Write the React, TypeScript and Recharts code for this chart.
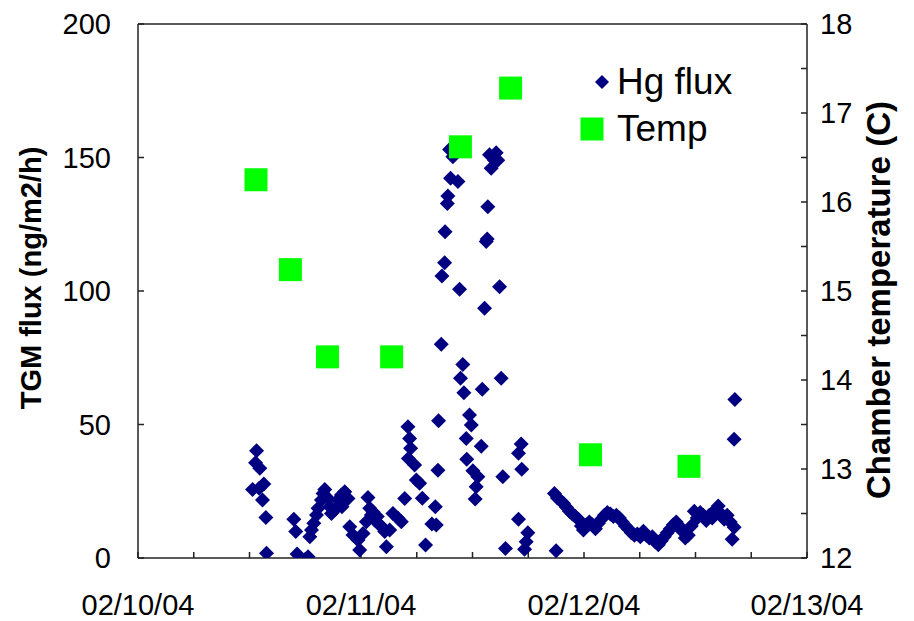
import React from 'react';
import { ScatterChart, Scatter, XAxis, YAxis, Legend, ReferenceLine } from 'recharts';

// Hours since 02/10/04 00:00, TGM flux (ng/m2/h)
const hgFluxPoints: [number, number][] = [
  [12.33, 25.7], [12.65, 35.7], [12.76, 40.2], [13.04, 26.1], [13.11, 33.6], [13.4, 21.7], [13.54, 27.7], [13.76, 15.2], [13.83, 1.8],
  [16.77, 14.5], [16.98, 9.9], [17.12, 1.5], [18.3, 0.5], [18.49, 8.0], [18.67, 10.5], [18.92, 13.0], [19.21, 16.1], [19.38, 18.6],
  [19.74, 21.7], [19.92, 24.2], [20.1, 25.7], [20.45, 22.3], [20.64, 19.2], [20.82, 16.7], [21.17, 18.0], [21.53, 21.7], [21.89, 23.6],
  [21.95, 19.2], [22.25, 24.8], [22.6, 22.3], [22.79, 11.7], [23.14, 8.6], [23.68, 6.7], [23.86, 3.0], [24.22, 9.2], [24.58, 13.6],
  [24.75, 22.7], [24.94, 18.6], [25.12, 16.1], [25.3, 17.2], [25.47, 14.2], [25.75, 15.5], [26.01, 12.4], [26.3, 11.5], [26.55, 9.9],
  [26.73, 4.2], [27.09, 10.5], [27.44, 16.7], [27.98, 14.9], [28.34, 13.6], [28.7, 22.3],
  [29.05, 49.2], [29.23, 44.8], [29.34, 41.1], [29.1, 37.3], [29.77, 34.8], [29.95, 29.2], [30.31, 28.0], [30.6, 22.4], [30.95, 4.9],
  [31.63, 12.7], [32.1, 12.4], [32.0, 19.2], [32.28, 32.9], [32.35, 51.4], [32.64, 80.1], [32.71, 105.6], [33.0, 110.6], [33.05, 122.2],
  [33.29, 132.8], [33.35, 135.6], [33.64, 142.2], [33.53, 153.0], [33.89, 150.3], [34.43, 141.0], [34.61, 100.7], [34.71, 67.3],
  [34.96, 72.5], [35.07, 61.9], [35.33, 44.8], [35.38, 37.0], [35.68, 53.6], [35.87, 49.8], [36.04, 32.7], [36.4, 26.7], [36.29, 22.1],
  [36.58, 30.4], [36.94, 41.9], [37.05, 63.2], [37.3, 93.5], [37.48, 118.5], [37.58, 119.5], [37.65, 131.6], [37.83, 151.0],
  [38.01, 146.0], [38.37, 149.0], [38.55, 151.8], [38.72, 149.0], [38.91, 101.6], [39.09, 67.3], [39.26, 30.4], [39.55, 3.6],
  [40.95, 14.5], [40.95, 39.2], [41.24, 42.7], [41.3, 33.2], [41.95, 9.5], [41.78, 6.1], [41.6, 3.3], [45.0, 2.7],
  [44.82, 24.2], [45.14, 22.5], [45.46, 21.5], [45.79, 20.5], [46.11, 19.0], [46.43, 17.5], [46.75, 16.5], [47.08, 15.5], [47.4, 14.5],
  [47.72, 12.0], [47.94, 10.5], [48.26, 12.5], [48.58, 13.5], [48.9, 12.5], [49.23, 11.0], [49.55, 13.0], [49.87, 14.5], [50.19, 16.0],
  [50.52, 17.0], [50.84, 16.5], [51.16, 15.5], [51.48, 16.0], [51.81, 15.0], [52.13, 13.5], [52.45, 12.0], [52.77, 11.0], [53.1, 9.5],
  [53.42, 8.5], [53.74, 9.0], [54.06, 8.0], [54.39, 10.0], [54.71, 8.5], [55.03, 7.5], [55.35, 8.0], [55.68, 6.0], [56.0, 5.0],
  [56.32, 6.5], [56.64, 8.0], [56.96, 9.5], [57.29, 11.0], [57.61, 12.5], [57.93, 13.5], [58.25, 12.0], [58.58, 10.0], [58.9, 7.5],
  [59.22, 8.5], [59.54, 12.0], [59.87, 17.5], [60.19, 15.0], [60.51, 17.0], [60.83, 16.0], [61.16, 14.0], [61.48, 16.0], [61.8, 15.0],
  [62.12, 18.0], [62.45, 19.5], [62.77, 16.5], [63.09, 14.5], [63.41, 16.0], [63.74, 13.5], [63.95, 7.0], [64.16, 11.5], [64.16, 44.5],
  [64.24, 59.4],
];

// Hours since 02/10/04 00:00, chamber temperature (C)
const tempPoints: [number, number][] = [
  [12.7, 16.25], [16.4, 15.24], [20.4, 14.26], [27.3, 14.26], [34.7, 16.62], [40.1, 17.28], [48.7, 13.16], [59.3, 13.03],
];

const xTicks = [0, 6, 12, 18, 24, 30, 36, 42, 48, 54, 60, 66, 72];
const dateLabels: Record<number, string> = { 0: '02/10/04', 24: '02/11/04', 48: '02/12/04', 72: '02/13/04' };
const fluxTicks = [0, 50, 100, 150, 200];
const tempTicks = [12, 12.5, 13, 13.5, 14, 14.5, 15, 15.5, 16, 16.5, 17, 17.5, 18];

const hgData = hgFluxPoints.map(([t, flux]) => ({ t, flux }));
const tempData = tempPoints.map(([t, temp]) => ({ t, temp }));

const FONT = '"Liberation Sans", Arial, sans-serif';
const NAVY = '#000080';
const GREEN = '#00FF00';
const AXIS = '#222';

const DiamondShape = (props: any) => {
  const { cx, cy } = props;
  const r = 7.5;
  return <polygon points={`${cx},${cy - r} ${cx + r},${cy} ${cx},${cy + r} ${cx - r},${cy}`} fill={NAVY} />;
};

const SquareShape = (props: any) => {
  const { cx, cy } = props;
  const s = 23;
  return <rect x={cx - s / 2} y={cy - s / 2} width={s} height={s} fill={GREEN} />;
};

const LegendContent = (props: any) => {
  const { payload } = props;
  return (
    <div style={{ fontFamily: FONT, fontSize: 37, color: '#000', lineHeight: 1 }}>
      {(payload || []).map((p: any, i: number) => (
        <div key={i} style={{ display: 'flex', alignItems: 'center', height: 47 }}>
          <svg width={42} height={30} style={{ display: 'block' }}>
            {i === 0 ? (
              <polygon points="30,8 37,15 30,22 23,15" fill={NAVY} />
            ) : (
              <rect x={8.5} y={3.5} width={23} height={23} fill={GREEN} />
            )}
          </svg>
          <span style={{ marginLeft: 3 }}>{p.value}</span>
        </div>
      ))}
    </div>
  );
};

export default function App() {
  return (
    <div style={{ position: 'absolute', left: 0, top: 0, width: 914, height: 621, background: '#fff' }}>
      <ScatterChart width={914} height={621} margin={{ top: 24, right: 0, bottom: 0, left: 0 }}>
        <XAxis
          type="number"
          dataKey="t"
          domain={[0, 72]}
          ticks={xTicks}
          interval={0}
          tickFormatter={(v: number) => dateLabels[v] ?? ''}
          tickSize={-6}
          tickMargin={42}
          height={63}
          stroke={AXIS}
          strokeWidth={1.5}
          tick={{ fill: '#000', fontSize: 29, fontFamily: FONT }}
          allowDataOverflow
        />
        <YAxis
          yAxisId="left"
          type="number"
          dataKey="flux"
          domain={[0, 200]}
          ticks={fluxTicks}
          interval={0}
          width={138}
          tickSize={-6}
          tickMargin={33}
          stroke={AXIS}
          strokeWidth={1.5}
          tick={{ fill: '#000', fontSize: 29, fontFamily: FONT }}
          allowDataOverflow
          label={{
            value: 'TGM flux (ng/m2/h)',
            angle: -90,
            position: 'insideLeft',
            offset: 31,
            dy: -13,
            style: { textAnchor: 'middle', fontFamily: FONT, fontSize: 29, fontWeight: 'bold', fill: '#000' },
          }}
        />
        <YAxis
          yAxisId="right"
          orientation="right"
          type="number"
          dataKey="temp"
          domain={[12, 18]}
          ticks={tempTicks}
          interval={0}
          width={107}
          tickSize={-6}
          tickMargin={19}
          tickFormatter={(v: number) => (Number.isInteger(v) ? String(v) : '')}
          stroke={AXIS}
          strokeWidth={1.5}
          tick={{ fill: '#000', fontSize: 29, fontFamily: FONT, textAnchor: 'start' }}
          allowDataOverflow
          label={{
            value: 'Chamber temperature (C)',
            angle: -90,
            position: 'insideRight',
            offset: 36,
            dy: 9,
            style: { textAnchor: 'middle', fontFamily: FONT, fontSize: 33, fontWeight: 'bold', fill: '#000' },
          }}
        />
        <ReferenceLine yAxisId="left" y={200} stroke={AXIS} strokeWidth={1.5} ifOverflow="extendDomain" />
        <Scatter
          name="Hg flux"
          yAxisId="left"
          data={hgData}
          dataKey="flux"
          fill={NAVY}
          shape={DiamondShape}
          isAnimationActive={false}
        />
        <Scatter
          name="Temp"
          yAxisId="right"
          data={tempData}
          dataKey="temp"
          fill={GREEN}
          shape={SquareShape}
          isAnimationActive={false}
        />
        <Legend
          layout="vertical"
          align="center"
          verticalAlign="middle"
          content={LegendContent}
          wrapperStyle={{ position: 'absolute', left: 572, top: 58, width: 180 }}
        />
      </ScatterChart>
    </div>
  );
}
